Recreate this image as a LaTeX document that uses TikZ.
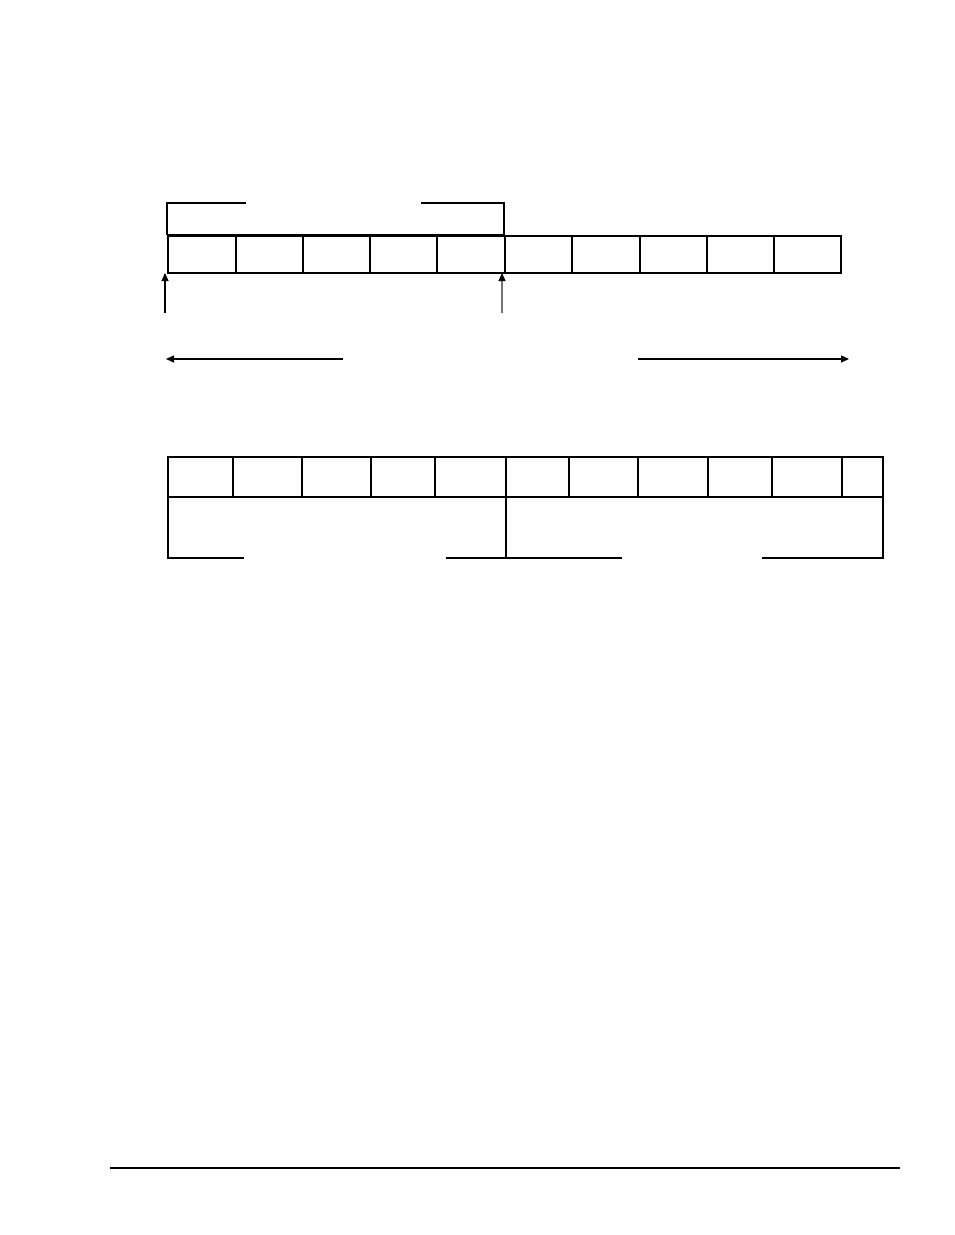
\documentclass[tikz,border=0pt]{standalone}
\usetikzlibrary{arrows.meta}
\begin{document}
\begin{tikzpicture}[x=1pt,y=-1pt,
  cell/.style={draw,rectangle,inner sep=0pt,outer sep=0pt,anchor=north west,line width=1.3pt},
  ln/.style={line width=1.3pt},
  arr/.style={line width=1.1pt,-{Triangle[length=8pt,width=7pt,color=black]}}]
\useasboundingbox[fill=white] (0,0) rectangle (954,1235);
% top bracket
\draw[ln] (246,203) -- (167,203) -- (167,235);
\draw[ln] (421,203) -- (504,203) -- (504,235);
\draw[line width=2pt] (167,235) -- (504,235);
% top row of cells
\foreach \n/\a/\b in {1/168/236,2/236/303,3/303/370,4/370/437,5/437/505,6/505/572,7/572/640,8/640/707,9/707/774,10/774/841}{
  \node[cell,minimum width={\b-\a},minimum height=37pt] (t\n) at (\a,236) {};
}
% up arrows
\coordinate (u1) at (165,313);
\coordinate (u2) at (502,313);
\draw[arr] (u1) -- (u1 |- t1.south);
\draw[arr,draw=black!55] (u2) -- (u2 |- t5.south);
% horizontal arrows
\coordinate (l1) at (343,359);
\coordinate (l2) at (166,359);
\coordinate (r1) at (638,359);
\coordinate (r2) at (849,359);
\draw[arr] (l1) -- (l2);
\draw[arr] (r1) -- (r2);
% bottom table, upper row
\foreach \n/\a/\b in {1/168/233,2/233/302,3/302/371,4/371/435,5/435/506,6/506/569,7/569/638,8/638/708,9/708/772,10/772/842,11/842/883}{
  \node[cell,minimum width={\b-\a},minimum height=40pt] (b\n) at (\a,457) {};
}
% bottom table, lower row
\draw[ln] (b1.south west) -- (168,558) -- (244,558);
\draw[ln] (446,558) -- (506,558) -- (b5.south east);
\draw[ln] (506,558) -- (622,558);
\draw[ln] (762,558) -- (883,558) -- (b11.south east);
% footer rule
\draw[line width=1.2pt] (110,1168) -- (900,1168);
\end{tikzpicture}
\end{document}
